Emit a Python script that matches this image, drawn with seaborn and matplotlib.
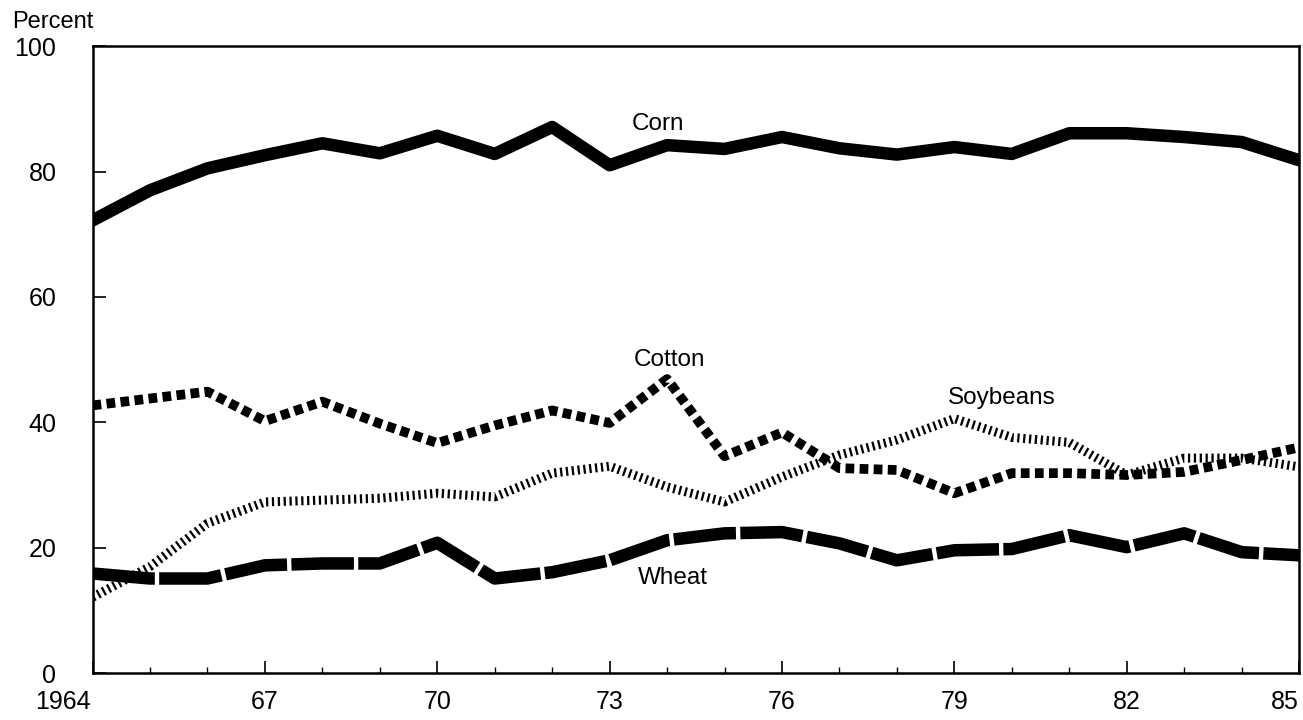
import pandas as pd
import seaborn as sns
import matplotlib.pyplot as plt
from matplotlib.ticker import MultipleLocator
from matplotlib.transforms import ScaledTranslation

# share of acreage, percent
years    = list(range(1964, 1986))
corn     = [72.2, 77.0, 80.5, 82.6, 84.5, 82.9, 85.7, 82.8, 87.1, 81.0, 84.2,
            83.6, 85.5, 83.7, 82.7, 83.9, 82.8, 86.1, 86.1, 85.5, 84.7, 81.8]
cotton   = [42.7, 43.8, 44.9, 40.2, 43.3, 39.8, 36.7, 39.5, 41.9, 39.9, 46.9,
            34.6, 38.4, 32.7, 32.4, 28.7, 31.9, 31.9, 31.6, 32.1, 34.0, 36.0]
soybeans = [12.1, 17.0, 23.9, 27.3, 27.6, 27.9, 28.7, 28.1, 31.9, 33.0, 29.7,
            27.3, 31.3, 34.8, 37.2, 40.6, 37.6, 36.8, 31.6, 34.3, 34.3, 32.9]
wheat    = [15.9, 15.1, 15.1, 17.2, 17.5, 17.5, 20.8, 15.1, 16.1, 18.0, 21.2,
            22.3, 22.5, 20.7, 18.0, 19.6, 19.8, 22.0, 20.1, 22.3, 19.3, 18.8]
xticklabels = ["1964", "67", "70", "73", "76", "79", "82", "85"]

df = pd.DataFrame({"year": years, "Corn": corn, "Cotton": cotton,
                   "Soybeans": soybeans, "Wheat": wheat})

sns.set_theme(style="ticks")
plt.rcParams["font.family"] = ["Liberation Sans", "DejaVu Sans"]
plt.rcParams["text.color"] = "black"
plt.rcParams["xtick.color"] = "black"
plt.rcParams["ytick.color"] = "black"

fig = plt.figure(figsize=(13.03, 7.2), dpi=100)
ax = fig.add_axes([0.071, 0.065, 0.926, 0.871])

#corn solid, cotton heavy dots, soybeans fine hatch, wheat long dashes
sns.lineplot(data=df, x="year", y="Corn", ax=ax, color="black", lw=9)
sns.lineplot(data=df, x="year", y="Cotton", ax=ax, color="black", lw=7,
             linestyle=(0, (0.9, 0.55)), dash_capstyle="butt")
sns.lineplot(data=df, x="year", y="Soybeans", ax=ax, color="black", lw=6.5,
             linestyle=(0, (0.25, 0.4)), dash_capstyle="butt")
sns.lineplot(data=df, x="year", y="Wheat", ax=ax, color="black", lw=9,
             linestyle=(0, (5, 0.35)), dash_capstyle="butt")

lab = dict(fontsize=17.5, ha="center", va="center")
ax.text(1973.84, 87.6, "Corn", **lab)
ax.text(1974.05, 49.9, "Cotton", **lab)
ax.text(1979.82, 43.9, "Soybeans", **lab)
ax.text(1974.1, 15.2, "Wheat", **lab)
fig.text(0.009, 0.969, "Percent", fontsize=17, ha="left", va="center")

ax.set_xlim(1964, 1985)
ax.set_ylim(0, 100)
ax.set_xticks(range(1964, 1986, 3))
ax.set_xticklabels(xticklabels)
ax.xaxis.set_minor_locator(MultipleLocator(1))
ax.set_yticks(range(0, 101, 20))
ax.set_xlabel("")
ax.set_ylabel("")
ax.tick_params(axis="both", which="major", direction="in", length=9,
               width=1.2, labelsize=18, pad=12)
ax.tick_params(axis="x", which="minor", direction="in", length=4, width=1)
ax.tick_params(axis="y", pad=26)
# first year label shifted left of the corner, last one kept inside
first = ax.get_xticklabels()[0]
first.set_transform(first.get_transform() +
                    ScaledTranslation(-0.3, 0, fig.dpi_scale_trans))
ax.get_xticklabels()[-1].set_ha("right")
for spine in ax.spines.values():
    spine.set_visible(True)
    spine.set_color("black")
    spine.set_linewidth(1.8)

plt.savefig("out.png", dpi=100)
